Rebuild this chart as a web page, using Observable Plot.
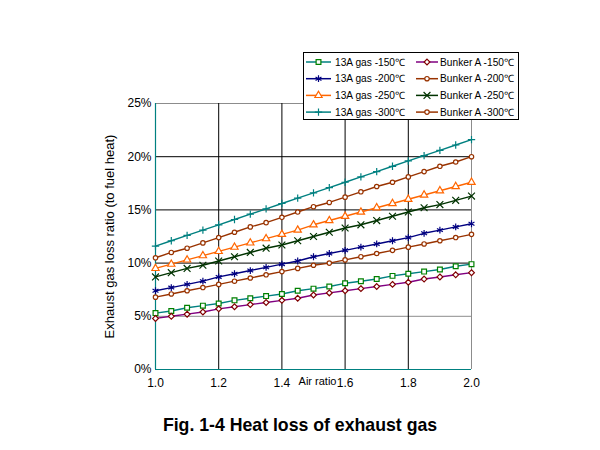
<!DOCTYPE html>
<html><head><meta charset="utf-8">
<script src="https://cdn.jsdelivr.net/npm/d3@7"></script>
<script src="https://cdn.jsdelivr.net/npm/@observablehq/plot@0.6"></script>
<style>
body{margin:0;background:#fff;font-family:"Liberation Sans",Arial,sans-serif;}
#title{width:600px;height:50px;line-height:50px;text-align:center;font-weight:bold;font-size:17.7px;color:#000;}
</style></head><body>
<div id="chart"></div>
<div id="title">Fig. 1-4 Heat loss of exhaust gas</div>
<script>
// ---- data ----
const airRatio = [1.00,1.05,1.10,1.15,1.20,1.25,1.30,1.35,1.40,1.45,1.50,1.55,1.60,1.65,1.70,1.75,1.80,1.85,1.90,1.95,2.00];
const gas150    = [5.3,5.5,5.8,6.0,6.2,6.5,6.7,6.9,7.1,7.4,7.6,7.8,8.1,8.3,8.5,8.8,9.0,9.2,9.4,9.7,9.9];
const gas200    = [7.4,7.7,8.0,8.3,8.7,9.0,9.3,9.6,9.9,10.2,10.6,10.9,11.2,11.5,11.8,12.1,12.4,12.8,13.1,13.4,13.7];
const gas250    = [9.5,9.9,10.3,10.7,11.1,11.5,11.9,12.3,12.7,13.1,13.6,14.0,14.4,14.8,15.2,15.6,16.0,16.4,16.8,17.2,17.6];
const gas300    = [11.6,12.1,12.6,13.1,13.6,14.1,14.6,15.1,15.6,16.1,16.6,17.1,17.6,18.1,18.6,19.1,19.6,20.1,20.6,21.1,21.6];
const bunker150 = [4.8,5.0,5.2,5.4,5.7,5.9,6.1,6.3,6.5,6.7,7.0,7.2,7.4,7.6,7.8,8.0,8.2,8.5,8.7,8.9,9.1];
const bunker200 = [6.8,7.1,7.4,7.7,8.0,8.3,8.6,8.9,9.2,9.5,9.8,10.0,10.3,10.6,10.9,11.2,11.5,11.8,12.1,12.4,12.7];
const bunker250 = [8.7,9.1,9.5,9.8,10.2,10.6,11.0,11.4,11.7,12.1,12.5,12.9,13.3,13.6,14.0,14.4,14.8,15.2,15.5,15.9,16.3];
const bunker300 = [10.5,11.0,11.4,11.9,12.4,12.9,13.4,13.8,14.3,14.8,15.3,15.7,16.2,16.7,17.2,17.6,18.1,18.6,19.1,19.5,20.0];
const seriesNames = ["13A gas -150\u2103","13A gas -200\u2103","13A gas -250\u2103","13A gas -300\u2103",
                     "Bunker A -150\u2103","Bunker A -200\u2103","Bunker A -250\u2103","Bunker A -300\u2103"];
const seriesValues = [gas150,gas200,gas250,gas300,bunker150,bunker200,bunker250,bunker300];
const xTicks = [1.0,1.2,1.4,1.6,1.8,2.0];
const yTicks = [0,5,10,15,20,25];
const xLabel = "Air ratio";
const yLabel = "Exhaust gas loss ratio (to fuel heat)";

// ---- styles ----
const styles = [
  {line:"#008080", mark:"#008000", symbol:"square",   r:2.7},
  {line:"#000080", mark:"#000080", symbol:"asterisk", r:3.2},
  {line:"#FF6600", mark:"#FF6600", symbol:"triangle", r:2.7},
  {line:"#008080", mark:"#008080", symbol:"plus",     r:2.5},
  {line:"#800080", mark:"#800000", symbol:"diamond2", r:2.6},
  {line:"#993300", mark:"#993300", symbol:"circle",   r:2.2},
  {line:"#003300", mark:"#003300", symbol:"times",    r:3.2},
  {line:"#993300", mark:"#993300", symbol:"circle",   r:2.2}
];

const tables = seriesValues.map((vals, i) => vals.map((v, j) => ({x: airRatio[j], y: v, s: seriesNames[i]})));

const marks = [
  Plot.ruleY(yTicks.filter(v => v > 0), {y: d => d, stroke: d => (d === 5 || d === 25) ? "#8c8c8c" : "#000", strokeWidth: 1}),
  Plot.ruleX(xTicks.filter(v => v > 1), {x: d => d, stroke: d => d === 2 ? "#8c8c8c" : "#000", strokeWidth: 1}),
  Plot.ruleX([1], {x: d => d, stroke: "#008080", strokeWidth: 1.2}),
  Plot.ruleY([0], {y: d => d, stroke: "#008080", strokeWidth: 1.2}),
  Plot.axisY(yTicks, {tickSize: 0, tickPadding: 4, tickFormat: d => d + "%", label: null, fontSize: 12}),
  Plot.axisX(xTicks, {tickSize: 0, tickPadding: 9, tickFormat: d => d.toFixed(1), label: null, fontSize: 12}),
  Plot.text([yLabel], {text: d => d, frameAnchor: "left", textAnchor: "middle", rotate: -90, dx: -46, fontSize: 13}),
  Plot.text([xLabel], {text: d => d, frameAnchor: "bottom", textAnchor: "middle", dx: 4, dy: 15, fontSize: 11})
];
tables.forEach((t, i) => {
  const st = styles[i];
  marks.push(Plot.line(t, {x: "x", y: "y", stroke: st.line, strokeWidth: 1.4}));
  marks.push(Plot.dot(t, {x: "x", y: "y", symbol: st.symbol, r: st.r, stroke: st.mark, fill: "white", strokeWidth: 1.2}));
});

const plot = Plot.plot({
  width: 600, height: 400,
  marginTop: 103, marginBottom: 31, marginLeft: 155, marginRight: 129,
  style: {fontFamily: "'Liberation Sans', Arial, sans-serif", fontSize: "12px", color: "#000", background: "#fff", overflow: "visible"},
  x: {domain: [1, 2]},
  y: {domain: [0, 25]},
  marks
});
document.getElementById("chart").appendChild(plot);

// ---- legend ----
const svg = d3.select(plot);
const lg = svg.append("g").attr("font-family", "'Liberation Sans', Arial, sans-serif").attr("font-size", 10.2)
  .attr("text-anchor", "start");
lg.append("rect").attr("x", 303.5).attr("y", 52.5).attr("width", 215).attr("height", 67)
  .attr("fill", "white").attr("stroke", "#000").attr("stroke-width", 1);
const symMap = {square: d3.symbolSquare, asterisk: d3.symbolAsterisk, triangle: d3.symbolTriangle, plus: d3.symbolPlus,
                diamond2: d3.symbolDiamond2, circle: d3.symbolCircle, times: d3.symbolTimes};
seriesNames.forEach((name, i) => {
  const st = styles[i];
  const col = i < 4 ? 0 : 1;
  const row = i % 4;
  const x0 = col === 0 ? 306 : 416;
  const x1 = col === 0 ? 331 : 438;
  const y = 62 + row * 16.7;
  lg.append("line").attr("x1", x0).attr("x2", x1).attr("y1", y).attr("y2", y)
    .attr("stroke", st.line).attr("stroke-width", 1.5);
  lg.append("path").attr("d", d3.symbol(symMap[st.symbol], Math.PI * st.r * st.r)())
    .attr("transform", `translate(${(x0 + x1) / 2},${y})`)
    .attr("stroke", st.mark).attr("fill", "white").attr("stroke-width", 1.2);
  lg.append("text").attr("x", col === 0 ? 335 : 440).attr("y", y).attr("dy", "0.35em")
    .attr("text-anchor", "start").attr("fill", "#000").text(name);
});
</script>
</body></html>
